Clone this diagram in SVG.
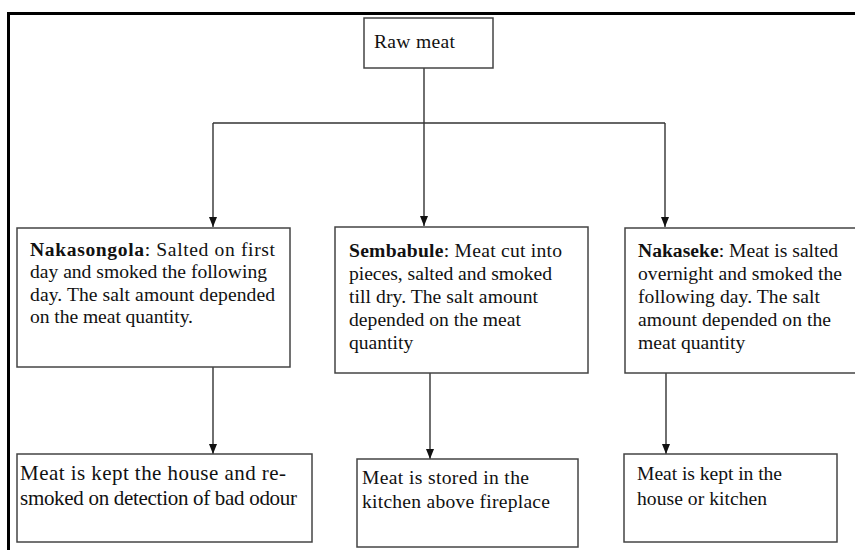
<svg xmlns="http://www.w3.org/2000/svg" width="855" height="550" viewBox="0 0 855 550">
<defs>
<style>
.box{fill:#fff;stroke:#444;stroke-width:1.5}
.ln{fill:none;stroke:#333;stroke-width:1.4}
text{font-family:"Liberation Serif","Times New Roman",serif;font-size:19.6px;fill:#111}
.b{font-weight:bold}
.big{font-size:21px}
</style>
<marker id="ah" viewBox="0 0 10 8" refX="10" refY="4" markerWidth="10" markerHeight="8" markerUnits="userSpaceOnUse" orient="auto">
<path d="M0,0 L10,4 L0,8 Z" fill="#111"/>
</marker>
</defs>
<rect x="0" y="0" width="855" height="550" fill="#fff"/>
<path d="M8.5,600 V13.5 H900" fill="none" stroke="#000" stroke-width="3"/>
<g id="connectors">
<path class="ln" d="M424,68 V123"/>
<path class="ln" d="M213,123 H665"/>
<path class="ln" d="M213,123 V227" marker-end="url(#ah)"/>
<path class="ln" d="M424,123 V226" marker-end="url(#ah)"/>
<path class="ln" d="M665,123 V227" marker-end="url(#ah)"/>
<path class="ln" d="M213,367 V454" marker-end="url(#ah)"/>
<path class="ln" d="M430,373 V459" marker-end="url(#ah)"/>
<path class="ln" d="M666,373 V454" marker-end="url(#ah)"/>
</g>
<g id="raw">
<rect class="box" x="364" y="18" width="129" height="50"/>
<text x="374" y="48" font-size="20" textLength="81">Raw meat</text>
</g>
<g id="nakasongola">
<rect class="box" x="17" y="228" width="273" height="139"/>
<text x="30" y="256" textLength="245"><tspan class="b">Nakasongola</tspan>:  Salted on first</text>
<text x="30" y="278" textLength="237">day and smoked the following</text>
<text x="30" y="301" textLength="245">day. The salt amount depended</text>
<text x="30" y="323" textLength="163">on the meat quantity.</text>
</g>
<g id="sembabule">
<rect class="box" x="335" y="227" width="253" height="146"/>
<text x="349" y="257" textLength="213"><tspan class="b">Sembabule</tspan>:  Meat cut into</text>
<text x="349" y="280" textLength="203">pieces, salted and smoked</text>
<text x="349" y="303" textLength="189">till dry. The salt amount</text>
<text x="349" y="326" textLength="172">depended on the meat</text>
<text x="349" y="349">quantity</text>
</g>
<g id="nakaseke">
<rect class="box" x="625" y="228" width="240" height="145"/>
<text x="638" y="257" textLength="200"><tspan class="b">Nakaseke</tspan>: Meat is salted</text>
<text x="638" y="280" textLength="204">overnight and smoked the</text>
<text x="638" y="303" textLength="182">following day. The salt</text>
<text x="638" y="326" textLength="193">amount depended on the</text>
<text x="638" y="349">meat quantity</text>
</g>
<g id="store1">
<rect class="box" x="17" y="454" width="295" height="88"/>
<text class="big" x="20" y="480" textLength="266">Meat is kept the house and re-</text>
<text class="big" x="20" y="505" textLength="277">smoked on detection of bad odour</text>
</g>
<g id="store2">
<rect class="box" x="357" y="459" width="221" height="88"/>
<text x="362" y="484" textLength="167">Meat is stored in the</text>
<text x="362" y="508" textLength="188">kitchen above fireplace</text>
</g>
<g id="store3">
<rect class="box" x="624" y="454" width="213" height="88"/>
<text x="637" y="480" textLength="145">Meat is kept in the</text>
<text x="637" y="505" textLength="130">house or kitchen</text>
</g>
</svg>
